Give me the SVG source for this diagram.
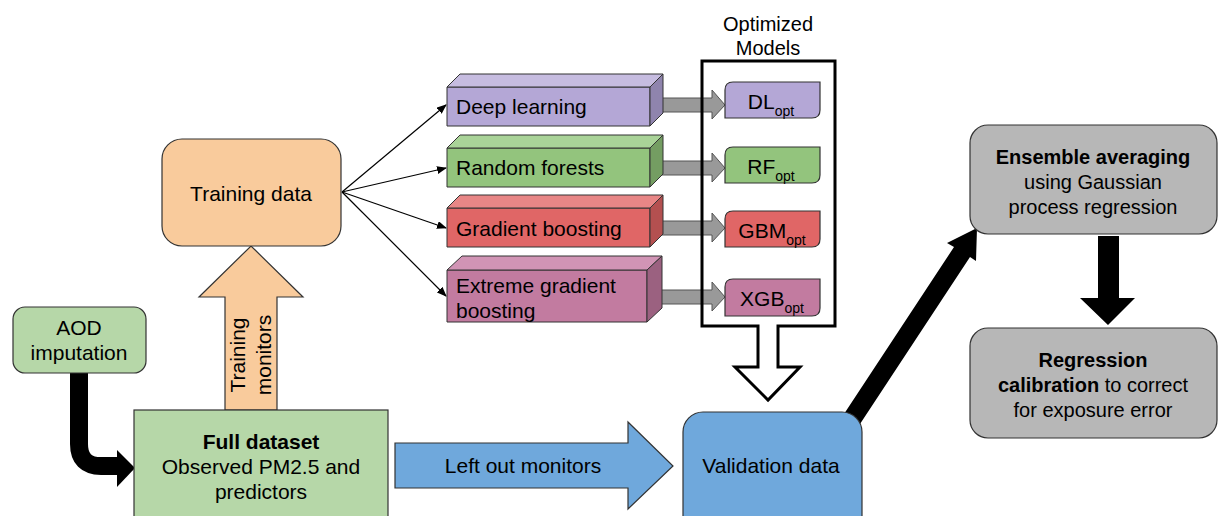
<svg xmlns="http://www.w3.org/2000/svg" width="1218" height="516" viewBox="0 0 1218 516">
  <style>
    text { font-family: "Liberation Sans", Arial, sans-serif; fill: #000; }
    .t20 { font-size: 21px; }
    .t18 { font-size: 20px; }
    .mid { text-anchor: middle; }
    .b { font-weight: bold; }
    .box { stroke: #333; stroke-width: 1.2; }
    .cube { stroke: #333; stroke-width: 1; stroke-linejoin: round; }
    .thin { stroke: #000; stroke-width: 1.2; fill: none; }
    .gray-arrow { fill: #999; stroke: #555; stroke-width: 1; }
    .sub { font-size: 14px; }
  </style>
  <defs>
    <marker id="tip" markerWidth="10" markerHeight="8" refX="9" refY="4" orient="auto" markerUnits="userSpaceOnUse">
      <path d="M0,0 L10,4 L0,8 Z" fill="#000"/>
    </marker>
  </defs>

  <rect width="1218" height="516" fill="#fff"/>

  <!-- connectors -->
  <g id="connectors">
    <!-- training data fan-out -->
    <line class="thin" x1="342" y1="192" x2="446" y2="105" marker-end="url(#tip)"/>
    <line class="thin" x1="342" y1="192" x2="446" y2="168" marker-end="url(#tip)"/>
    <line class="thin" x1="342" y1="192" x2="446" y2="228" marker-end="url(#tip)"/>
    <line class="thin" x1="342" y1="192" x2="446" y2="296" marker-end="url(#tip)"/>

    <!-- training monitors (up) -->
    <g id="arrow-training">
      <path d="M225,410 V297 H199 L251,246 L303,297 H277 V410 Z" fill="#f9cb9c" stroke="#333" stroke-width="1.2"/>
      <g transform="translate(251,355) rotate(-90)">
        <text class="t20 mid" x="0" y="-6">Training</text>
        <text class="t20 mid" x="0" y="20">monitors</text>
      </g>
    </g>

    <!-- AOD imputation elbow -->
    <path d="M79,373 V444 Q79,466 101,466 H120" fill="none" stroke="#000" stroke-width="18"/>
    <path d="M117,450 L135,468 L117,487 Z" fill="#000"/>

    <!-- left out monitors -->
    <g id="arrow-leftout">
      <path d="M395,443 H628 V422 L673,466 L628,509 V488 H395 Z" fill="#6fa8dc" stroke="#333" stroke-width="1.2"/>
      <text class="t20 mid" x="523" y="473">Left out monitors</text>
    </g>

    <!-- cube to optimized model arrows -->
    <path class="gray-arrow" d="M651,98 H712 V90 L725,105 L712,119 V112 H651 Z"/>
    <path class="gray-arrow" d="M651,161 H712 V153 L725,168 L712,182 V175 H651 Z"/>
    <path class="gray-arrow" d="M651,221 H712 V213 L725,228 L712,242 V235 H651 Z"/>
    <path class="gray-arrow" d="M648,290 H712 V282 L725,297 L712,311 V304 H648 Z"/>
    <rect x="650" y="98" width="3" height="14" fill="#111"/>
    <rect x="650" y="161" width="3" height="14" fill="#111"/>
    <rect x="650" y="221" width="3" height="14" fill="#111"/>
    <rect x="647" y="290" width="3" height="14" fill="#111"/>

    <!-- validation to ensemble -->
    <polygon points="844,414 954,247 947,243 977,228 976,261 970,257 860,424" fill="#000"/>

    <!-- ensemble to regression calibration -->
    <path d="M1098,236 H1119 V298 H1135 L1108,325 L1080,298 H1098 Z" fill="#000"/>
  </g>

  <!-- training data -->
  <g id="node-training">
    <rect class="box" x="162" y="139" width="179" height="107" rx="20" fill="#f9cb9c"/>
    <text class="t20 mid" x="251" y="201">Training data</text>
  </g>

  <!-- model cubes -->
  <g id="node-dl">
    <rect class="cube" x="447" y="87" width="203" height="39" fill="#b4a7d6"/>
    <polygon class="cube" points="447,87 460,74 663,74 650,87" fill="#c6bce0"/>
    <polygon class="cube" points="650,87 663,74 663,113 650,126" fill="#8f84ad"/>
    <text class="t20" x="456" y="114">Deep learning</text>
  </g>
  <g id="node-rf">
    <rect class="cube" x="447" y="148" width="203" height="39" fill="#93c47d"/>
    <polygon class="cube" points="447,148 460,135 663,135 650,148" fill="#a9d398"/>
    <polygon class="cube" points="650,148 663,135 663,174 650,187" fill="#749d62"/>
    <text class="t20" x="456" y="175">Random forests</text>
  </g>
  <g id="node-gb">
    <rect class="cube" x="447" y="208" width="203" height="39" fill="#e06666"/>
    <polygon class="cube" points="447,208 460,195 663,195 650,208" fill="#e88686"/>
    <polygon class="cube" points="650,208 663,195 663,234 650,247" fill="#b45050"/>
    <text class="t20" x="456" y="236">Gradient boosting</text>
  </g>
  <g id="node-xgb">
    <rect class="cube" x="447" y="270" width="200" height="52" fill="#c27ba0"/>
    <polygon class="cube" points="447,270 462,256 662,256 647,270" fill="#d194b5"/>
    <polygon class="cube" points="647,270 662,256 662,308 647,322" fill="#9b6180"/>
    <text class="t20" x="456" y="293">Extreme gradient</text>
    <text class="t20" x="456" y="318">boosting</text>
  </g>

  <!-- optimized models -->
  <g id="node-opt-dl">
    <path class="box" d="M733,82 H820 V110 Q820,118 812,118 H725 V90 Q725,82 733,82 Z" fill="#b4a7d6"/>
    <text class="t20 mid" x="771" y="109">DL<tspan class="sub" dy="7">opt</tspan></text>
  </g>
  <g id="node-opt-rf">
    <path class="box" d="M733,147 H820 V175 Q820,183 812,183 H725 V155 Q725,147 733,147 Z" fill="#93c47d"/>
    <text class="t20 mid" x="771" y="174">RF<tspan class="sub" dy="7">opt</tspan></text>
  </g>
  <g id="node-opt-gbm">
    <path class="box" d="M733,211 H820 V239 Q820,247 812,247 H725 V219 Q725,211 733,211 Z" fill="#e06666"/>
    <text class="t20 mid" x="772" y="238">GBM<tspan class="sub" dy="7">opt</tspan></text>
  </g>
  <g id="node-opt-xgb">
    <path class="box" d="M733,279 H820 V308 Q820,316 812,316 H725 V287 Q725,279 733,279 Z" fill="#c27ba0"/>
    <text class="t20 mid" x="772" y="306">XGB<tspan class="sub" dy="7">opt</tspan></text>
  </g>

  <!-- optimized models frame with hollow down arrow -->
  <g id="node-optimized">
    <path d="M702,61 H835 V326 H778 V367 H800 L768,400 L735,367 H758 V326 H702 Z" fill="none" stroke="#000" stroke-width="3" stroke-linejoin="miter"/>
    <text class="t18 mid" x="768" y="31">Optimized</text>
    <text class="t18 mid" x="768" y="55">Models</text>
  </g>

  <!-- AOD imputation -->
  <g id="node-aod">
    <rect class="box" x="13" y="307" width="133" height="66" rx="12" fill="#b6d7a8"/>
    <text class="t20 mid" x="79" y="335">AOD</text>
    <text class="t20 mid" x="79" y="360">imputation</text>
  </g>

  <!-- full dataset -->
  <g id="node-full">
    <rect class="box" x="134" y="410" width="254" height="120" fill="#b6d7a8"/>
    <text class="t20 mid b" x="261" y="449">Full dataset</text>
    <text class="t20 mid" x="261" y="474">Observed PM2.5 and</text>
    <text class="t20 mid" x="261" y="499">predictors</text>
  </g>

  <!-- validation data -->
  <g id="node-validation">
    <rect class="box" x="683" y="412" width="179" height="130" rx="20" fill="#6fa8dc"/>
    <text class="t20 mid" x="771" y="473">Validation data</text>
  </g>

  <!-- ensemble averaging -->
  <g id="node-ensemble">
    <rect class="box" x="970" y="125" width="247" height="109" rx="18" fill="#b7b7b7"/>
    <text class="t18 mid b" x="1093" y="164">Ensemble averaging</text>
    <text class="t18 mid" x="1093" y="189">using Gaussian</text>
    <text class="t18 mid" x="1093" y="214">process regression</text>
  </g>

  <!-- regression calibration -->
  <g id="node-calibration">
    <rect class="box" x="970" y="328" width="247" height="110" rx="18" fill="#b7b7b7"/>
    <text class="t18 mid b" x="1093" y="367">Regression</text>
    <text class="t18 mid" x="1093" y="392"><tspan class="b">calibration</tspan> to correct</text>
    <text class="t18 mid" x="1093" y="417">for exposure error</text>
  </g>
</svg>
